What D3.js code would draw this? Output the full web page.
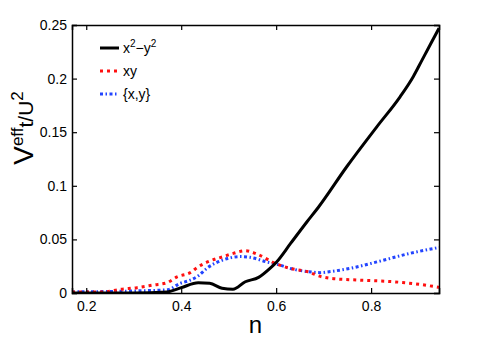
<!DOCTYPE html>
<html>
<head>
<meta charset="utf-8">
<script src="https://cdn.jsdelivr.net/npm/d3@7"></script>
<style>
body { margin: 0; background: #fff; }
svg text { font-family: "Liberation Sans", Arial, sans-serif; }
</style>
</head>
<body>
<svg id="chart" width="485" height="338"></svg>
<script>
// values
var nX2Y2 = [0.17, 0.30, 0.37, 0.40, 0.436, 0.46, 0.486, 0.509, 0.535, 0.563, 0.587, 0.601, 0.63, 0.665, 0.689, 0.749, 0.812, 0.861, 0.889, 0.907, 0.943];
var vX2Y2 = [0.0, 0.0, 0.001, 0.005, 0.0095, 0.009, 0.0044, 0.0034, 0.0105, 0.0146, 0.023, 0.029, 0.046, 0.0665, 0.08, 0.118, 0.155, 0.183, 0.202, 0.217, 0.247];

var nXY = [0.17, 0.236, 0.272, 0.307, 0.342, 0.37, 0.391, 0.419, 0.436, 0.461, 0.489, 0.51, 0.535, 0.559, 0.598, 0.629, 0.665, 0.693, 0.714, 0.777, 0.847, 0.903, 0.943];
var vXY = [0.001, 0.001, 0.0034, 0.005, 0.0075, 0.0096, 0.015, 0.019, 0.0245, 0.030, 0.034, 0.037, 0.0395, 0.0364, 0.0277, 0.023, 0.020, 0.0155, 0.0137, 0.012, 0.0105, 0.008, 0.0053];

var nPair = [0.17, 0.307, 0.37, 0.398, 0.419, 0.436, 0.454, 0.489, 0.524, 0.545, 0.58, 0.601, 0.629, 0.665, 0.693, 0.714, 0.756, 0.812, 0.882, 0.943];
var vPair = [0.001, 0.002, 0.003, 0.009, 0.012, 0.016, 0.023, 0.031, 0.034, 0.0333, 0.029, 0.027, 0.023, 0.020, 0.019, 0.020, 0.023, 0.029, 0.037, 0.0425];

var xTicks = [0.2, 0.4, 0.6, 0.8];
var yTicks = [0, 0.05, 0.1, 0.15, 0.2, 0.25];

var svg = d3.select("#chart");
var m = {left: 72, right: 439, top: 25, bottom: 293};

var x = d3.scaleLinear().domain([0.17, 0.943]).range([m.left, m.right]);
var y = d3.scaleLinear().domain([0, 0.25]).range([m.bottom, m.top]);

var series = [
  {n: nX2Y2, v: vX2Y2, color: "#000", dash: null},
  {n: nXY, v: vXY, color: "#ff1010", dash: "3,4"},
  {n: nPair, v: vPair, color: "#2244ff", dash: "3,2.5,1.5,2.5"}
];

svg.append("clipPath").attr("id", "clip")
  .append("rect").attr("x", m.left).attr("y", m.top - 2)
  .attr("width", m.right - m.left).attr("height", m.bottom - m.top + 2);

var line = d3.line()
  .x(function(d) { return x(d[0]); })
  .y(function(d) { return y(d[1]); })
  .curve(d3.curveMonotoneX);

var plot = svg.append("g").attr("clip-path", "url(#clip)");
// back to front: pair, xy, then x2-y2 on top
[series[2], series[1], series[0]].forEach(function(s) {
  plot.append("path")
    .datum(d3.zip(s.n, s.v))
    .attr("fill", "none")
    .attr("stroke", s.color)
    .attr("stroke-width", 3)
    .attr("stroke-dasharray", s.dash)
    .attr("d", line);
});

// axes, ticks inside and mirrored on top/right
svg.append("g").attr("transform", "translate(0," + m.bottom + ")")
  .call(d3.axisBottom(x).tickValues(xTicks).tickSize(-5).tickPadding(8).tickFormat(d3.format("")));
svg.append("g").attr("transform", "translate(0," + m.top + ")")
  .call(d3.axisTop(x).tickValues(xTicks).tickSize(-5).tickFormat(""));
svg.append("g").attr("transform", "translate(" + m.left + ",0)")
  .call(d3.axisLeft(y).tickValues(yTicks).tickSize(-5).tickPadding(5).tickFormat(d3.format("")));
svg.append("g").attr("transform", "translate(" + m.right + ",0)")
  .call(d3.axisRight(y).tickValues(yTicks).tickSize(-5).tickFormat(""));

svg.selectAll(".domain").attr("stroke", "#000").attr("stroke-width", 1.5);
svg.selectAll(".tick line").attr("stroke", "#000").attr("stroke-width", 1.2);
svg.selectAll(".tick text").attr("fill", "#000").style("font-size", "14px");

// axis labels
svg.append("text").attr("x", (m.left + m.right) / 2).attr("y", 333)
  .attr("text-anchor", "middle").style("font-size", "24px").text("n");

var yl = svg.append("text")
  .attr("transform", "translate(33,128) rotate(-90)")
  .attr("text-anchor", "middle").style("font-size", "28px");
yl.append("tspan").text("V");
yl.append("tspan").attr("dy", -10).style("font-size", "17px").text("eff");
yl.append("tspan").attr("dy", 10).style("font-size", "21px").text("t/U");
yl.append("tspan").attr("dy", -10).style("font-size", "17px").text("2");

// legend
var legY = [48, 71, 94];
var legend = svg.append("g");
series.forEach(function(s, i) {
  legend.append("line")
    .attr("x1", 100).attr("x2", 119).attr("y1", legY[i]).attr("y2", legY[i])
    .attr("stroke", s.color).attr("stroke-width", 3)
    .attr("stroke-dasharray", s.dash);
});
var t0 = legend.append("text").attr("x", 123).attr("y", legY[0] + 5).style("font-size", "14px");
t0.append("tspan").text("x");
t0.append("tspan").attr("dy", -6).style("font-size", "10px").text("2");
t0.append("tspan").attr("dy", 6).text("\u2212y");
t0.append("tspan").attr("dy", -6).style("font-size", "10px").text("2");
legend.append("text").attr("x", 123).attr("y", legY[1] + 5).style("font-size", "14px").text("xy");
legend.append("text").attr("x", 123).attr("y", legY[2] + 5).style("font-size", "14px").text("{x,y}");
</script>
</body>
</html>
